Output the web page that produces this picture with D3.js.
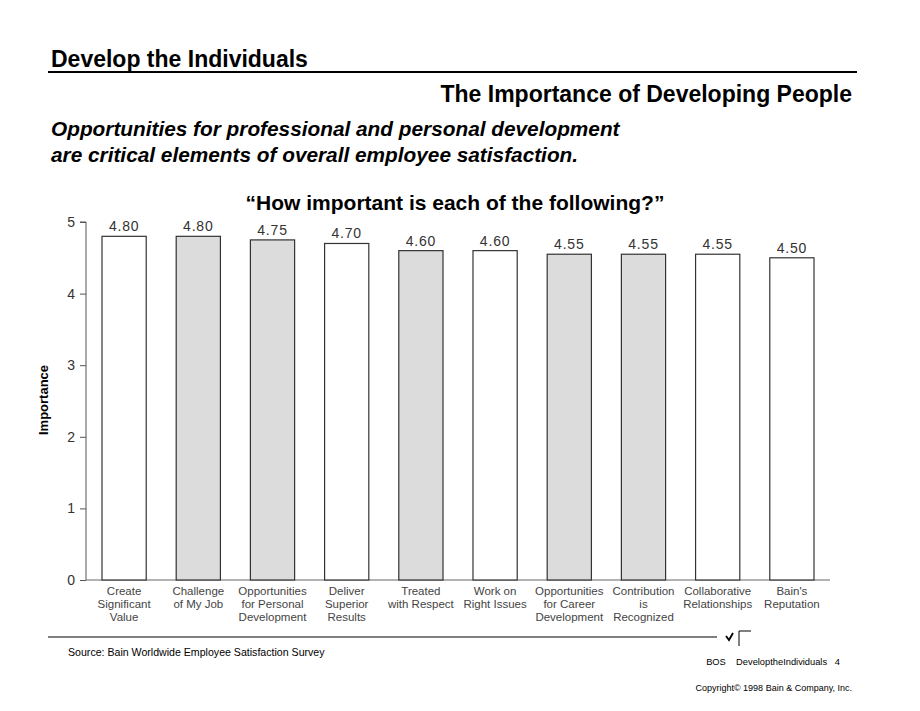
<!DOCTYPE html>
<html><head><meta charset="utf-8">
<script src="https://cdn.jsdelivr.net/npm/d3@7"></script>
<style>
html,body{margin:0;padding:0;background:#fff;}
text{font-family:"Liberation Sans",Arial,sans-serif;}
</style></head>
<body><svg id="c" width="920" height="711"></svg>
<script>
const categories = [
  ["Create","Significant","Value"],
  ["Challenge","of My Job"],
  ["Opportunities","for Personal","Development"],
  ["Deliver","Superior","Results"],
  ["Treated","with Respect"],
  ["Work on","Right Issues"],
  ["Opportunities","for Career","Development"],
  ["Contribution","is","Recognized"],
  ["Collaborative","Relationships"],
  ["Bain's","Reputation"]
];
const values = [4.80, 4.80, 4.75, 4.70, 4.60, 4.60, 4.55, 4.55, 4.55, 4.50];
const shaded = [false, true, true, false, true, false, true, true, false, false];
const yTicks = [0, 1, 2, 3, 4, 5];

const svg = d3.select("#c");
const x0 = 86, x1 = 830, yTop = 222, yBot = 580;
const x = d3.scaleBand().domain(d3.range(values.length)).range([x0, x1]).paddingInner(0.404).paddingOuter(0.2156);
const y = d3.scaleLinear().domain([0, 5]).range([yBot, yTop]);

// header
svg.append("text").attr("x", 51).attr("y", 67).attr("font-size", 23).attr("font-weight", "bold").text("Develop the Individuals");
svg.append("line").attr("x1", 48).attr("x2", 857).attr("y1", 72).attr("y2", 72).attr("stroke", "#000").attr("stroke-width", 2);
svg.append("text").attr("x", 852).attr("y", 102).attr("text-anchor", "end").attr("font-size", 23).attr("font-weight", "bold").text("The Importance of Developing People");
svg.append("text").attr("x", 51).attr("y", 136).attr("font-size", 20.8).attr("font-weight", "bold").attr("font-style", "italic").text("Opportunities for professional and personal development");
svg.append("text").attr("x", 51).attr("y", 162).attr("font-size", 20.8).attr("font-weight", "bold").attr("font-style", "italic").text("are critical elements of overall employee satisfaction.");
svg.append("text").attr("x", 455).attr("y", 210).attr("text-anchor", "middle").attr("font-size", 21).attr("font-weight", "bold").text("\u201CHow important is each of the following?\u201D");

// axes
const yAxis = d3.axisLeft(y).tickValues(yTicks).tickSize(6).tickPadding(5).tickFormat(d3.format("d"));
const gy = svg.append("g").attr("transform", `translate(${x0},0)`).call(yAxis);
gy.select(".domain").attr("stroke", "#555").attr("d", `M-6,${yTop}H0V${yBot}`);
gy.selectAll(".tick line").attr("stroke", "#555");
gy.selectAll(".tick text").attr("font-size", 14).attr("fill", "#333").attr("font-family", "'Liberation Sans',Arial,sans-serif");
svg.append("line").attr("x1", x0).attr("x2", x1).attr("y1", yBot).attr("y2", yBot).attr("stroke", "#666").attr("stroke-width", 1);

svg.append("text").attr("transform", `translate(48,400) rotate(-90)`).attr("text-anchor", "middle").attr("font-size", 13).attr("font-weight", "bold").text("Importance");

// bars
svg.selectAll("rect.bar").data(values).join("rect").attr("class", "bar")
  .attr("x", (d, i) => x(i)).attr("width", x.bandwidth())
  .attr("y", d => y(d)).attr("height", d => yBot - y(d))
  .attr("fill", (d, i) => shaded[i] ? "#dcdcdc" : "#fff")
  .attr("stroke", "#333").attr("stroke-width", 1.2);

svg.selectAll("text.val").data(values).join("text").attr("class", "val")
  .attr("x", (d, i) => x(i) + x.bandwidth() / 2).attr("y", d => y(d) - 5)
  .attr("text-anchor", "middle").attr("font-size", 14).attr("letter-spacing", 0.8).attr("fill", "#333")
  .text(d => d.toFixed(2));

const cat = svg.selectAll("text.cat").data(categories).join("text").attr("class", "cat")
  .attr("text-anchor", "middle").attr("font-size", 11.5).attr("fill", "#444");
cat.each(function(lines, i) {
  d3.select(this).selectAll("tspan").data(lines).join("tspan")
    .attr("x", x(i) + x.bandwidth() / 2).attr("y", (l, k) => 595 + k * 13).text(l => l);
});

// footer
svg.append("line").attr("x1", 48).attr("x2", 717).attr("y1", 637).attr("y2", 637).attr("stroke", "#000").attr("stroke-width", 1.2);
svg.append("path").attr("d", "M726,636 L729,640 L733,633").attr("fill", "none").attr("stroke", "#000").attr("stroke-width", 1.8);
svg.append("path").attr("d", "M739,646 V631 H751").attr("fill", "none").attr("stroke", "#000").attr("stroke-width", 1);
svg.append("text").attr("x", 68).attr("y", 656).attr("font-size", 10.6).text("Source:  Bain Worldwide Employee Satisfaction Survey");
svg.append("text").attr("x", 840).attr("y", 665).attr("text-anchor", "end").attr("font-size", 9.3).attr("xml:space", "preserve").text("BOS    DeveloptheIndividuals   4");
svg.append("text").attr("x", 852).attr("y", 691).attr("text-anchor", "end").attr("font-size", 9).text("Copyright\u00A9 1998 Bain & Company, Inc.");
</script></body></html>
